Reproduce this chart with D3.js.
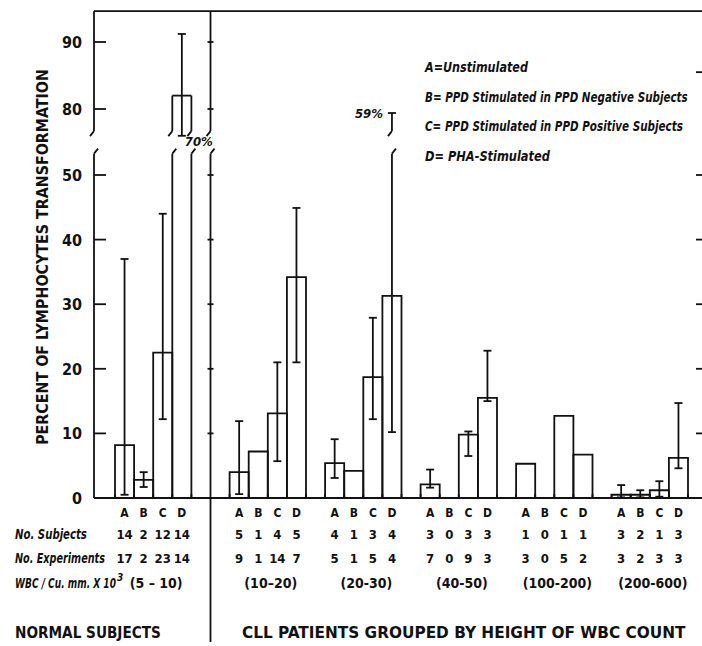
<!DOCTYPE html>
<html>
<head>
<meta charset="utf-8">
<script src="https://cdn.jsdelivr.net/npm/d3@7"></script>
<style>
  body { margin: 0; background: #fff; }
  svg { display: block; }
  text { font-family: "DejaVu Sans Condensed", "DejaVu Sans", sans-serif; fill: #111; }
  .ln { stroke: #111; stroke-width: 1.8; fill: none; }
  .bi { font-weight: bold; font-style: italic; }
  .b { font-weight: bold; }
</style>
</head>
<body>
<svg width="702" height="646"></svg>
<script>
// bar letters and groups (normal subjects, then CLL groups by WBC count)
var letters = ["A", "B", "C", "D"];
var groupStart = [0, 6, 11, 16, 21, 26];   // slot where each group begins
var wbcRanges = ["(5 \u2013 10)", "(10\u201320)", "(20-30)", "(40-50)", "(100-200)", "(200-600)"];

// mean percent transformation per group, A..D
var values = [
    [8.2, 2.8, 22.5, 82],
    [4.0, 7.2, 13.1, 34.2],
    [5.4, 4.2, 18.7, 31.3],
    [2.1, 0, 9.8, 15.5],
    [5.3, 0, 12.7, 6.7],
    [0.5, 0.5, 1.2, 6.2]
];
// range bars (null = none drawn)
var errLow = [
    [0.5, 1.7, 12.2, 70],
    [0.6, null, 5.7, 21.0],
    [3.1, null, 12.2, 10.2],
    [1.6, null, 6.5, 15.0],
    [null, null, null, null],
    [0.1, 0.1, 0.2, 4.6]
];
var errHigh = [
    [37, 4.0, 44, 91.2],
    [11.9, null, 21.0, 44.9],
    [9.1, null, 27.9, 59],
    [4.4, null, 10.3, 22.8],
    [null, null, null, null],
    [2.0, 1.2, 2.6, 14.7]
];
var subjects = [[14, 2, 12, 14], [5, 1, 4, 5], [4, 1, 3, 4], [3, 0, 3, 3], [1, 0, 1, 1], [3, 2, 1, 3]];
var experiments = [[17, 2, 23, 14], [9, 1, 14, 7], [5, 1, 5, 4], [7, 0, 9, 3], [3, 0, 5, 2], [3, 2, 3, 3]];

var lowTicks = [0, 10, 20, 30, 40, 50];
var highTicks = [80, 90];
var rightTicks = [10, 20, 30, 40, 50];

var legend = [
    "A=Unstimulated",
    "B= PPD Stimulated in PPD Negative Subjects",
    "C= PPD Stimulated in PPD Positive Subjects",
    "D= PHA-Stimulated"
];
var legendLen = [103, 263, 258, 125];

var svg = d3.select("svg");

// axis is broken: lower part 0..53, upper part 76..95
var loMax = 53.3, hiMin = 76.7, hiTop = 94.6;
var x = d3.scaleLinear().domain([0, 30]).range([115, 688]);
var yLo = d3.scaleLinear().domain([0, 50]).range([498, 175]);
var yHi = d3.scaleLinear().domain([80, 90]).range([109, 42]);
var axisX = 94, rightX = 702, divX = x(5);

function line(x1, y1, x2, y2) {
    svg.append("line").attr("class", "ln")
        .attr("x1", x1).attr("y1", y1).attr("x2", x2).attr("y2", y2);
}
// little curl at the end of a broken line
function brkTop(px, py) { line(px, py, px + 4, py - 5); }
function brkBot(px, py) { line(px, py, px - 4, py + 5); }
function cap(px, py) { line(px - 4, py, px + 4, py); }
function label(cls, px, py, size, txt) {
    return svg.append("text").attr("class", cls).attr("x", px).attr("y", py)
        .style("font-size", size + "px").text(txt);
}
// squeeze a text horizontally to the width it has in the figure
function fit(cls, px, py, size, txt, len, rot) {
    var t = svg.append("text").attr("class", cls).style("font-size", size + "px").text(txt);
    var sx = len / t.node().getComputedTextLength();
    t.attr("transform", "translate(" + px + "," + py + ")" + (rot ? " rotate(" + rot + ")" : "") +
        " scale(" + sx + ",1)");
    return t;
}

// frame
line(axisX, yHi(hiTop), rightX, yHi(hiTop));
line(axisX, yLo(0), rightX, yLo(0));

// left axis
line(axisX, yHi(hiTop), axisX, yHi(hiMin)); brkBot(axisX, yHi(hiMin));
line(axisX, yLo(loMax), axisX, yLo(0)); brkTop(axisX, yLo(loMax));
lowTicks.forEach(function(t) {
    if (t > 0) line(axisX, yLo(t), axisX + 12, yLo(t));
    label("b", axisX - 12, yLo(t) + 6, 16, t).attr("text-anchor", "end");
});
highTicks.forEach(function(t) {
    line(axisX, yHi(t), axisX + 12, yHi(t));
    label("b", axisX - 12, yHi(t) + 6, 16, t).attr("text-anchor", "end");
});

// divider between normal subjects and CLL patients
line(divX, yHi(hiTop), divX, yHi(hiMin)); brkBot(divX, yHi(hiMin));
line(divX, yLo(loMax), divX, 642); brkTop(divX, yLo(loMax));
lowTicks.slice(1).forEach(function(t) { line(divX - 3, yLo(t), divX + 3, yLo(t)); });
highTicks.forEach(function(t) { line(divX - 3, yHi(t), divX + 3, yHi(t)); });

// right edge ticks
rightTicks.forEach(function(t) { line(rightX - 6, yLo(t), rightX, yLo(t)); });
line(rightX - 6, yHi(85.5), rightX, yHi(85.5));

// baseline ticks at slot edges
groupStart.forEach(function(s) {
    d3.range(5).forEach(function(k) { line(x(s + k), yLo(0), x(s + k), yLo(0) - 4); });
});

// y title
fit("b", 48, 257, 15, "PERCENT OF LYMPHOCYTES TRANSFORMATION", 376, -90)
    .attr("text-anchor", "middle");

// bars
groupStart.forEach(function(s, g) {
    letters.forEach(function(L, i) {
        var v = values[g][i];
        var x0 = x(s + i), x1 = x(s + i + 1), xc = (x0 + x1) / 2;
        if (v > 0 && v <= loMax) {
            svg.append("path").attr("class", "ln")
                .attr("d", "M" + x0 + "," + yLo(0) + "V" + yLo(v) + "H" + x1 + "V" + yLo(0));
        } else if (v > loMax) {
            [x0, x1].forEach(function(px) {
                line(px, yLo(0), px, yLo(loMax)); brkTop(px, yLo(loMax));
                line(px, yHi(hiMin), px, yHi(v)); brkBot(px, yHi(hiMin));
            });
            line(x0, yHi(v), x1, yHi(v));
        }

        var lo = errLow[g][i], hi = errHigh[g][i];
        if (lo === null) return;
        if (hi <= loMax) {
            line(xc, yLo(lo), xc, yLo(hi)); cap(xc, yLo(lo)); cap(xc, yLo(hi));
        } else if (hi < hiMin) {
            // range top falls inside the break: stub with a label
            line(xc, yLo(lo), xc, yLo(loMax)); cap(xc, yLo(lo)); brkTop(xc, yLo(loMax));
            line(xc, yHi(79.4), xc, yHi(hiMin)); cap(xc, yHi(79.4)); brkBot(xc, yHi(hiMin));
            label("bi", xc - 9, yHi(79.4) + 5, 13, hi + "%").attr("text-anchor", "end");
        } else {
            // range bottom below the upper part
            line(xc, yHi(hi), xc, yHi(76)); cap(xc, yHi(hi)); cap(xc, yHi(76));
            label("bi", xc + 3, yHi(76) + 10, 13, lo + "%");
        }
    });
});

// legend
legend.forEach(function(t, i) {
    fit("bi", 425, 72 + i * 29.5, 14, t, legendLen[i]);
});

// table under the chart
var rowY = { letters: 517, subj: 539, exp: 563, wbc: 588 };
groupStart.forEach(function(s, g) {
    letters.forEach(function(L, i) {
        var xc = x(s + i + 0.5);
        label("b", xc, rowY.letters, 12, L).attr("text-anchor", "middle");
        label("b", xc, rowY.subj, 13, subjects[g][i]).attr("text-anchor", "middle");
        label("b", xc, rowY.exp, 13, experiments[g][i]).attr("text-anchor", "middle");
    });
    label("b", (x(s) + x(s + 4)) / 2 + 3, rowY.wbc, 14, wbcRanges[g]).attr("text-anchor", "middle");
});

fit("bi", 15, rowY.subj, 14, "No. Subjects", 72);
fit("bi", 15, rowY.exp, 14, "No. Experiments", 90);
fit("bi", 15, rowY.wbc, 14, "WBC / Cu. mm. X 10", 101);
label("bi", 117, rowY.wbc - 7, 10, "3");

fit("b", 15, 638, 16, "NORMAL SUBJECTS", 146);
fit("b", 242, 638, 16, "CLL PATIENTS GROUPED BY HEIGHT OF WBC COUNT", 444);
</script>
</body>
</html>
